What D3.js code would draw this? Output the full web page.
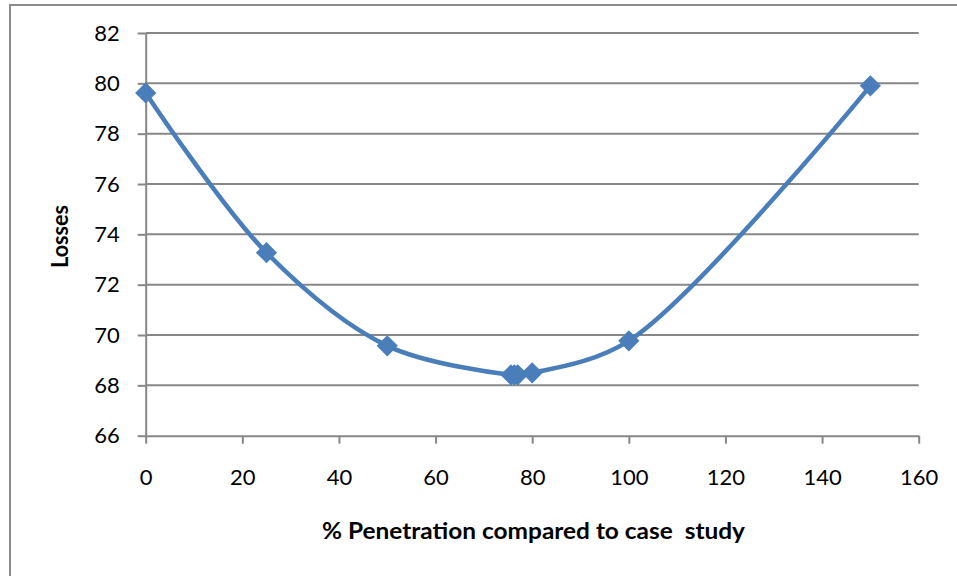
<!DOCTYPE html>
<html>
<head>
<meta charset="utf-8">
<script src="https://cdn.jsdelivr.net/npm/d3@7"></script>
<style>
html,body{margin:0;padding:0;background:#fff;}
svg{display:block;}
text{font-family:Lato,"Open Sans",sans-serif;fill:#000;}
</style>
</head>
<body>
<svg id="chart" width="957" height="576"></svg>
<script>
const penetration = [0, 25, 50, 75.6, 76.3, 77, 80, 100, 150];
const losses = [79.62, 73.27, 69.57, 68.42, 68.42, 68.42, 68.5, 69.77, 79.9];
const xTicks = [0, 20, 40, 60, 80, 100, 120, 140, 160];
const yTicks = [66, 68, 70, 72, 74, 76, 78, 80, 82];
const xTitle = "% Penetration compared to case  study";
const yTitle = "Losses";

const svg = d3.select("#chart");
const pLeft = 145.7, pRight = 918.7, pTop = 33, pBottom = 435.7;
const x = d3.scaleLinear().domain([0, 160]).range([pLeft, pRight]);
const y = d3.scaleLinear().domain([66, 82]).range([pBottom, pTop]);

// outer border
svg.append("path")
  .attr("d", `M10,580 L10,5 L960,5`)
  .attr("fill", "none").attr("stroke", "#8c8c8c").attr("stroke-width", 2);

// gridlines
svg.append("g").selectAll("line").data(yTicks.filter(d => d !== 66)).join("line")
  .attr("x1", pLeft).attr("x2", pRight)
  .attr("y1", d => y(d)).attr("y2", d => y(d))
  .attr("stroke", "#878787").attr("stroke-width", 2);

// x axis
const xAxis = svg.append("g").attr("transform", `translate(0,${pBottom})`)
  .call(d3.axisBottom(x).tickValues(xTicks).tickSize(8).tickPadding(26).tickSizeOuter(0));
xAxis.select(".domain").attr("stroke", "#878787").attr("stroke-width", 2);
xAxis.selectAll(".tick line").attr("stroke", "#878787").attr("stroke-width", 2);
xAxis.selectAll(".tick text").style("font-size", "22px").style("font-family", "Lato").attr("fill", "#000");

// y axis
const yAxis = svg.append("g").attr("transform", `translate(${pLeft},0)`)
  .call(d3.axisLeft(y).tickValues(yTicks).tickSize(8).tickPadding(18).tickSizeOuter(0));
yAxis.select(".domain").attr("stroke", "#878787").attr("stroke-width", 2);
yAxis.selectAll(".tick line").attr("stroke", "#878787").attr("stroke-width", 2);
yAxis.selectAll(".tick text").style("font-size", "22px").style("font-family", "Lato").attr("fill", "#000");

// line
const pts = penetration.map((p, i) => [p, losses[i]]);
const line = d3.line().x(d => x(d[0])).y(d => y(d[1])).curve(d3.curveCatmullRom.alpha(0.5));
svg.append("path").datum(pts).attr("d", line)
  .attr("fill", "none").attr("stroke", "#4a7ebb").attr("stroke-width", 4.5)
  .attr("stroke-linejoin", "round");

// markers
const sym = d3.symbol().type(d3.symbolSquare).size(196);
svg.append("g").selectAll("path").data(pts).join("path")
  .attr("d", sym)
  .attr("transform", d => `translate(${x(d[0])},${y(d[1])}) rotate(45)`)
  .attr("fill", "#4a7ebb").attr("stroke", "#4a7ebb").attr("stroke-width", 1);

// titles
svg.append("text").attr("x", 533.5).attr("y", 539).attr("text-anchor", "middle")
  .style("font-size", "22px").style("font-weight", "bold").style("white-space", "pre")
  .attr("xml:space", "preserve")
  .attr("textLength", 423).attr("lengthAdjust", "spacingAndGlyphs")
  .text(xTitle);
svg.append("text").attr("transform", "translate(68,236.5) rotate(-90)").attr("text-anchor", "middle")
  .style("font-size", "22px").style("font-weight", "bold")
  .attr("textLength", 63).attr("lengthAdjust", "spacingAndGlyphs")
  .text(yTitle);
</script>
</body>
</html>
